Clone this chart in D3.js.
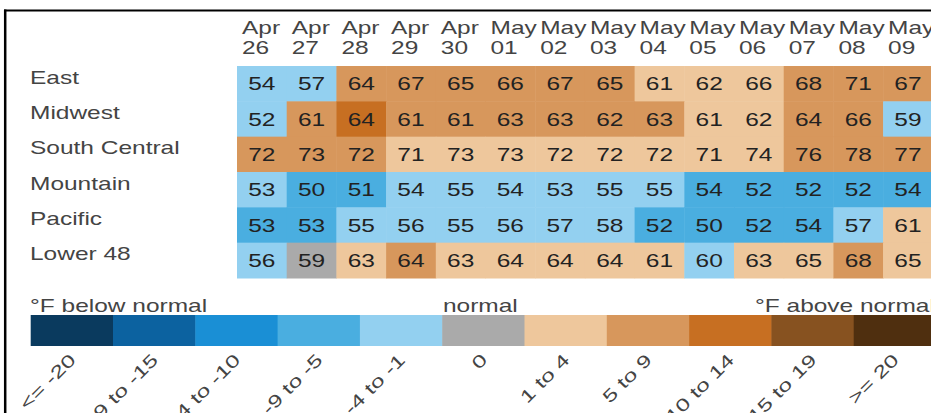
<!DOCTYPE html>
<html>
<head>
<meta charset="utf-8">
<script src="https://cdn.jsdelivr.net/npm/d3@7"></script>
<style>
  html, body { margin: 0; padding: 0; background: #fff; }
  svg { display: block; }
  text { font-family: "Liberation Sans", Arial, sans-serif; }
</style>
</head>
<body>
<div id="chart"></div>
<script>
// ---------- data ----------
const months = ["Apr","Apr","Apr","Apr","Apr","May","May","May","May","May","May","May","May","May"];
const days   = ["26","27","28","29","30","01","02","03","04","05","06","07","08","09"];
const regions = ["East","Midwest","South Central","Mountain","Pacific","Lower 48"];

// temperatures (°F)
const tEast     = [54,57,64,67,65,66,67,65,61,62,66,68,71,67];
const tMidwest  = [52,61,64,61,61,63,63,62,63,61,62,64,66,59];
const tSouthC   = [72,73,72,71,73,73,72,72,72,71,74,76,78,77];
const tMountain = [53,50,51,54,55,54,53,55,55,54,52,52,52,54];
const tPacific  = [53,53,55,56,55,56,57,58,52,50,52,54,57,61];
const tLower48  = [56,59,63,64,63,64,64,64,61,60,63,65,68,65];

// departure-from-normal bin (index into legend bins, 0 = normal)
const bEast     = [-1,-1, 2, 2, 2, 2, 2, 2, 1, 1, 1, 2, 2, 2];
const bMidwest  = [-1, 2, 3, 2, 2, 2, 2, 2, 2, 1, 1, 2, 2,-1];
const bSouthC   = [ 2, 2, 2, 1, 1, 1, 1, 1, 1, 1, 1, 2, 2, 2];
const bMountain = [-1,-2,-2,-1,-1,-1,-1,-1,-1,-2,-2,-2,-2,-2];
const bPacific  = [-2,-2,-1,-1,-1,-1,-1,-1,-2,-2,-2,-2,-1, 1];
const bLower48  = [-1, 0, 1, 2, 1, 1, 1, 1, 1,-1, 1, 1, 2, 1];

const binCodes  = [-5,-4,-3,-2,-1,0,1,2,3,4,5];
const binLabels = ["<= -20","-19 to -15","-14 to -10","-9 to -5","-4 to -1","0","1 to 4","5 to 9","10 to 14","15 to 19",">= 20"];
const binColors = ["#0a3a5e","#0c62a0","#1a8fd5","#4aaee0","#93d0f0","#aaaaaa","#eec79c","#d7975c","#c76f22","#875220","#4f2f0f"];

const temps = [tEast,tMidwest,tSouthC,tMountain,tPacific,tLower48];
const bins  = [bEast,bMidwest,bSouthC,bMountain,bPacific,bLower48];

// ---------- layout ----------
const W = 931, H = 413;
const SX = 1.4;       // horizontal stretch of the glyphs
const FS = 17.5;

const svg = d3.select("#chart").append("svg").attr("width", W).attr("height", H);

const cols = d3.range(days.length);
const x = d3.scaleBand().domain(cols).range([237, 237 + 14 * 49.7]).padding(0);
const y = d3.scaleBand().domain(regions).range([66, 278]).padding(0);
const color = d3.scaleOrdinal().domain(binCodes).range(binColors);

function txt(g, s, tx, ty, opts = {}) {
  const t = g.append("text")
    .attr("transform", `translate(${tx},${ty})${opts.rot ? ` rotate(${opts.rot})` : ""} scale(${SX},1)`)
    .attr("font-size", opts.fs || FS)
    .attr("fill", opts.fill || "#444")
    .attr("text-anchor", opts.anchor || "start")
    .text(s);
  return t;
}

// cells
const cells = [];
regions.forEach((r, i) => cols.forEach(j => cells.push({r, j, t: temps[i][j], b: bins[i][j]})));

svg.append("g").selectAll("rect").data(cells).join("rect")
  .attr("x", d => x(d.j)).attr("y", d => y(d.r))
  .attr("width", x.bandwidth() + 0.5).attr("height", y.bandwidth() + 0.5)
  .attr("fill", d => color(d.b));

const gNum = svg.append("g");
cells.forEach(d => txt(gNum, d.t, x(d.j) + x.bandwidth() / 2, y(d.r) + y.bandwidth() / 2 + 6.5,
  {anchor: "middle", fill: "#222"}));

// column headers
const gHead = svg.append("g");
cols.forEach(j => {
  txt(gHead, months[j], x(j) + 5, 33.5);
  txt(gHead, days[j], x(j) + 5, 53.5);
});

// row labels
const gRow = svg.append("g");
regions.forEach(r => txt(gRow, r, 30, y(r) + y.bandwidth() / 2));

// legend
const lx = d3.scaleBand().domain(binCodes).range([30.7, 30.7 + 11 * 82.3]).padding(0);
const gLeg = svg.append("g");
gLeg.selectAll("rect").data(binCodes).join("rect")
  .attr("x", d => lx(d)).attr("y", 315).attr("width", lx.bandwidth() + 0.5).attr("height", 31)
  .attr("fill", d => color(d));

txt(gLeg, "°F below normal", 30, 312);
txt(gLeg, "normal", lx(0) + lx.bandwidth() / 2 - 3, 312, {anchor: "middle"});
txt(gLeg, "°F above normal", 755, 312);

binCodes.forEach((b, i) => {
  txt(gLeg, binLabels[i], lx(b) + lx.bandwidth() / 2 + 5, 361, {anchor: "end", rot: -45});
});

// frame lines
svg.append("line").attr("x1", 4).attr("x2", W).attr("y1", 10.5).attr("y2", 10.5)
  .attr("stroke", "#000").attr("stroke-width", 2);
svg.append("line").attr("x1", 5.2).attr("x2", 5.2).attr("y1", 9.5).attr("y2", H)
  .attr("stroke", "#000").attr("stroke-width", 2.5);
</script>
</body>
</html>
